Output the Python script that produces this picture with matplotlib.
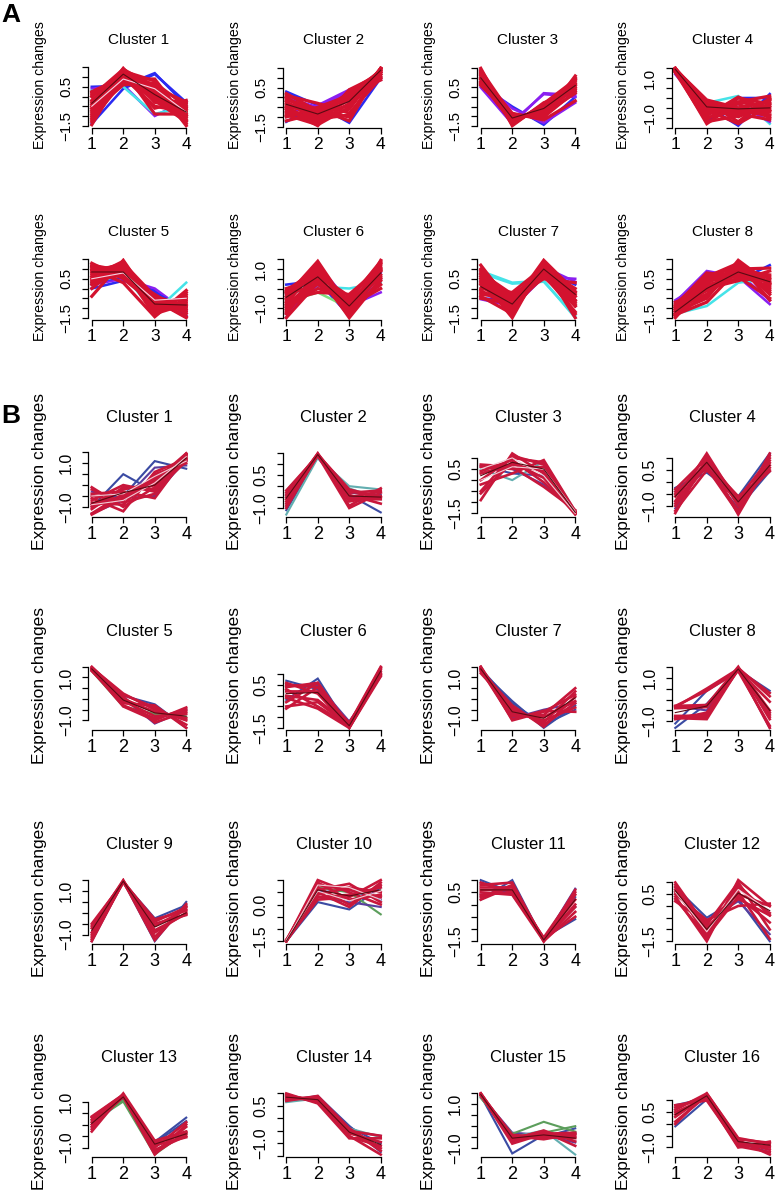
import matplotlib
matplotlib.use("Agg")
import matplotlib.pyplot as plt
import numpy as np

plt.rcParams['font.family'] = ['Liberation Sans', 'DejaVu Sans']

# ---------------- data ----------------
TIME_POINTS = [1, 2, 3, 4]
A_TITLES = ["Cluster %d" % i for i in range(1, 9)]
B_TITLES = ["Cluster %d" % i for i in range(1, 17)]
YLABEL = "Expression changes"

# y tick labels that are printed on each panel
A_YLABELS = [[-1.5, 0.5], [-1.5, 0.5], [-1.5, 0.5], [-1.0, 1.0],
             [-1.5, 0.5], [-1.0, 1.0], [-1.5, 0.5], [-1.5, 0.5]]
B_YLABELS = [[-1.0, 1.0], [-1.0, 0.5], [-1.5, 0.5], [-1.0, 0.5],
             [-1.0, 1.0], [-1.5, 0.5], [-1.0, 1.0], [-1.0, 1.0],
             [-1.0, 1.0], [-1.5, 0.0], [-1.5, 0.5], [-1.5, 0.5],
             [-1.0, 1.0], [-1.0, 0.5], [-1.0, 1.0], [-1.0, 0.5]]

# ---- Panel A ----
a1_mean = [-0.35, 1.15, 0.1, -0.8]
a1_red = [[-1.3, 1.0, 0.5, -0.3], [-1.0, 1.4, 0.2, -0.7], [-0.6, 1.45, -0.3, -0.6],
          [-0.2, 1.2, 0.6, -1.5], [0.2, 0.9, 0.9, -1.2], [0.0, 1.3, -0.1, -1.0],
          [-0.8, 0.6, 0.7, -0.5], [-0.4, 1.1, -0.6, -0.2], [0.1, 0.7, 0.3, -1.4],
          [-1.1, 1.35, -0.9, -0.9], [-1.45, 1.2, 0.0, -1.1], [0.25, 1.0, -0.5, -0.8],
          [-0.9, 1.2, 0.4, -1.0], [-0.3, 0.8, 0.0, -0.4], [-0.7, 1.0, -0.2, -1.3],
          [0.0, 1.4, 0.5, -0.9], [-1.2, 0.8, 0.2, -0.6], [-0.5, 1.3, 0.8, -1.2]]
a1_other = [("b", [0.5, 0.55, 1.2, -0.45]), ("p", [0.4, 0.6, -1.0, -0.2]),
            ("b", [-1.4, 0.4, 1.15, -0.3]), ("c", [0.3, 0.5, -0.9, -0.5]),
            ("w", [-0.5, 0.9, 0.4, -0.8])]

a2_mean = [-0.35, -0.85, -0.2, 1.4]
a2_red = [[0.2, -0.7, -1.0, 1.5], [-0.6, -1.45, 0.4, 1.2], [-1.0, -0.5, 0.1, 1.4],
          [-0.2, -1.2, -0.6, 1.5], [0.1, -0.3, -0.8, 1.0], [-0.8, -1.0, 0.3, 1.3],
          [-0.4, -0.6, -1.2, 1.5], [-1.2, -0.8, 0.0, 1.1], [-0.5, -1.3, -0.3, 1.45],
          [0.0, -1.0, 0.2, 0.9], [-0.3, -0.9, -0.4, 1.3], [-0.7, -1.1, -0.1, 1.4],
          [-0.1, -0.6, 0.0, 1.2], [-0.9, -1.4, -0.5, 1.5], [0.0, -1.1, -0.9, 1.3],
          [-0.5, -0.7, 0.2, 1.0]]
a2_other = [("b", [0.3, -0.4, -1.3, 1.0]), ("b", [-1.25, -0.35, -0.2, 1.2]),
            ("p", [-0.8, -0.4, 0.4, 0.9]), ("p", [0.0, -0.5, 0.3, 0.95])]

a3_mean = [1.0, -1.1, -0.6, 0.6]
a3_red = [[1.5, -1.5, -0.3, 0.3], [1.2, -1.3, -0.55, 0.65], [0.9, -1.1, -0.8, 1.0],
          [0.6, -0.9, -1.1, 1.1], [1.3, -1.4, -0.4, 0.5], [1.0, -1.2, -0.7, 0.9],
          [0.7, -1.0, -0.9, 0.2], [1.1, -0.85, -1.2, -0.2], [0.8, -1.35, -0.45, 0.8],
          [1.4, -1.0, -1.0, 0.6], [1.25, -1.2, -0.6, 0.4], [0.95, -1.0, -0.95, 0.7],
          [1.35, -1.45, -0.35, 0.9], [0.75, -1.25, -0.5, 0.5], [1.15, -0.95, -1.05, 0.3],
          [0.65, -1.1, -0.75, 0.95]]
a3_other = [("b", [0.6, -0.5, -1.45, 0.0]), ("p", [0.8, -0.6, -1.35, -0.3]),
            ("p", [0.5, -1.4, 0.2, 0.1]), ("p", [1.1, -1.3, 0.15, 0.0])]

a4_mean = [1.45, -0.45, -0.55, -0.5]
a4_red = [[1.5, -0.3, -0.6, -0.6], [1.4, -1.1, 0.0, -0.3], [1.45, -0.2, -1.2, 0.0],
          [1.35, -0.8, -0.3, -1.0], [1.5, -0.5, -0.9, -0.1], [1.4, -1.3, -0.2, 0.1],
          [1.45, -0.1, -0.5, -0.85], [1.3, -0.6, -1.3, -0.4], [1.5, -0.9, 0.05, -0.65],
          [1.4, -0.4, -0.7, -0.7], [1.45, -0.7, -0.5, -0.2], [1.35, -0.35, -0.95, -0.3],
          [1.5, -1.0, -0.6, -0.9], [1.4, -0.55, -0.2, -0.5], [1.45, -0.15, -0.8, -1.1],
          [1.3, -1.2, -0.9, -0.05]]
a4_other = [("c", [1.3, -0.25, 0.1, -1.3]), ("b", [1.35, -1.2, 0.0, 0.0]),
            ("b", [1.4, -0.4, -1.4, 0.2]), ("p", [1.2, -0.7, -0.3, -1.2])]

a5_mean = [0.85, 0.85, -0.8, -0.85]
a5_red = [[1.2, 0.9, -0.6, -1.5], [0.6, 1.4, -1.0, -1.0], [1.0, 0.3, -1.45, -0.1],
          [0.0, 1.3, -0.4, -0.9], [0.9, 1.1, -1.2, -0.3], [0.4, 0.7, -0.3, -1.3],
          [1.3, 0.5, -0.8, -0.9], [0.7, 1.0, -1.4, -0.2], [-0.4, 1.45, -0.9, -0.4],
          [1.1, 0.8, -1.0, -0.7], [0.95, 1.2, -0.7, -1.2], [0.5, 1.0, -1.1, -0.6],
          [1.15, 0.6, -0.5, -1.1], [0.2, 1.1, -0.8, -0.5], [0.8, 1.3, -1.3, -0.8],
          [0.3, 0.9, -0.6, -1.45]]
a5_other = [("b", [0.0, 0.4, -0.1, -1.4]), ("p", [0.2, 0.5, 0.0, -1.2]),
            ("b", [0.3, 0.6, -0.2, -1.1]), ("c", [0.3, 0.7, -1.2, 0.3]),
            ("w", [0.5, 0.8, -0.6, -0.5])]

a6_mean = [-0.45, 0.6, -0.9, 0.8]
a6_red = [[-1.5, 0.3, -0.6, 1.4], [-0.8, 1.2, -1.3, 0.9], [-0.2, 0.8, -1.5, 0.5],
          [-1.0, 0.0, -0.5, 1.3], [-0.4, 1.4, -1.0, 0.2], [0.0, 0.5, -1.2, 1.0],
          [-1.2, 0.9, -0.8, 0.6], [-0.6, -0.2, -0.3, 1.1], [-0.1, 1.0, -0.9, 0.0],
          [-0.9, 0.6, -1.4, 1.45], [-0.5, 1.0, -1.1, 0.7], [-1.1, 0.4, -1.0, 1.2],
          [-0.3, 0.2, -0.7, 0.9], [-0.7, 1.3, -1.3, 0.4], [-1.3, 0.7, -0.4, 1.0],
          [-0.2, 0.6, -1.1, 1.3]]
a6_other = [("b", [0.2, 0.4, -1.4, 0.8]), ("p", [-1.5, 1.2, -0.7, 0.5]),
            ("c", [-0.3, 0.1, 0.0, 0.3]), ("p", [-1.3, 0.2, -0.9, -0.2]),
            ("g", [-0.7, -0.2, -1.0, 0.9])]

a7_mean = [0.1, -0.8, 1.0, -0.3]
a7_red = [[1.2, -0.9, 0.6, -0.9], [0.5, -1.5, 1.4, -0.4], [-0.2, -0.6, 1.2, -0.4],
          [0.8, -0.3, 0.7, -1.2], [0.2, -1.2, 1.0, 0.0], [-0.5, -0.8, 1.45, -0.15],
          [0.9, -1.0, 0.9, -0.8], [0.0, -0.2, 1.1, -1.5], [0.6, -1.3, 1.3, -0.6],
          [-0.3, -0.5, 0.5, 0.3], [0.3, -0.7, 1.2, -0.6], [0.7, -1.1, 0.8, -0.3],
          [-0.1, -1.0, 1.3, -0.9], [1.0, -0.6, 1.0, -1.3], [0.4, -0.4, 0.9, -0.2],
          [-0.4, -1.3, 1.1, -0.7]]
a7_other = [("b", [-0.5, -0.6, 0.9, 0.2]), ("p", [-0.55, -0.9, 1.1, 0.35]),
            ("c", [0.9, 0.3, 0.4, -1.5]), ("c", [0.8, 0.25, 0.35, -1.4]),
            ("p", [0.4, -1.0, 0.6, 0.5])]

a8_mean = [-1.2, 0.0, 0.85, 0.35]
a8_red = [[-1.5, 0.3, 0.9, 0.3], [-1.2, -0.5, 1.45, 0.25], [-0.9, 0.8, 0.6, -0.5],
          [-1.3, 0.0, 0.4, 0.9], [-1.0, -0.3, 1.1, 0.2], [-1.4, 0.5, 1.2, -0.3],
          [-0.7, -0.1, 0.8, 0.0], [-1.1, 0.2, 0.5, 0.4], [-1.35, -0.7, 1.0, 1.05],
          [-0.8, 0.6, 1.3, -0.6], [-1.2, 0.1, 0.7, 0.6], [-1.0, 0.4, 1.0, -0.1],
          [-1.4, -0.3, 0.9, 0.7], [-0.9, -0.4, 1.2, 0.5], [-1.3, 0.7, 0.7, 0.1],
          [-1.1, -0.1, 1.35, -0.2]]
a8_other = [("p", [-0.7, 0.9, 0.6, -0.8]), ("b", [-1.0, 0.6, 0.4, 1.2]),
            ("p", [-0.6, 0.4, 0.8, -0.6]), ("c", [-1.3, -0.9, 0.3, 0.5])]

# ---- Panel B ----
b1_mean = [-0.83, -0.35, 0.0, 1.24]
b1_red = [[-1.3, -0.4, 0.0, 1.45], [-0.6, -1.2, 0.6, 1.2], [-1.0, -0.5, 0.3, 1.3],
          [-0.2, -0.8, -0.4, 1.4], [-1.1, -0.1, -0.2, 1.4], [-0.8, -0.9, 0.5, 1.0],
          [-0.4, -0.3, -0.6, 1.35], [-1.35, -0.6, 0.2, 1.45], [-0.7, 0.0, -0.3, 1.1],
          [-0.1, -1.0, -0.1, 1.2], [-0.9, -0.2, 0.1, 1.25], [-0.5, -0.7, 0.4, 1.15]]
b1_other = [("b", [-1.0, 0.5, -0.3, 1.1]), ("b", [-0.9, -0.5, 1.1, 0.75]),
            ("p", [-1.3, -0.7, 0.8, 0.9]), ("p", [-0.3, -0.6, -0.5, 1.2]),
            ("w", [-0.9, -0.7, 0.1, 1.3]), ("w", [-0.5, -0.4, 0.4, 1.1])]

b2_mean = [-0.55, 1.45, -0.45, -0.5]
b2_red = [[-0.3, 1.45, -0.7, -0.45], [-0.9, 1.4, -0.3, -0.2], [-0.5, 1.5, -0.9, -0.1],
          [-0.7, 1.45, -0.2, -0.55], [-0.2, 1.4, -0.6, -0.6], [-1.0, 1.45, -0.5, -0.25],
          [-0.6, 1.5, -0.4, -0.8], [-0.4, 1.4, -1.0, -0.3], [-0.8, 1.45, -0.15, -0.5]]
b2_other = [("b", [-0.4, 1.3, -0.4, -1.2]), ("b", [-1.1, 1.35, -0.3, -0.4]),
            ("t", [-1.3, 1.3, 0.0, -0.15]), ("t", [-0.2, 1.35, -0.1, -0.6])]

b3_mean = [0.2, 0.8, 0.5, -1.45]
b3_red = [[-0.9, 1.2, 0.3, -1.5], [0.6, 0.5, 0.6, -1.4], [0.0, 1.0, 0.8, -1.5],
          [0.4, 0.9, -0.1, -1.45], [-0.5, 1.1, 0.7, -1.45], [0.3, 0.7, 0.4, -1.5],
          [-0.2, 0.3, 0.9, -1.4], [0.7, 0.6, -0.3, -1.35], [-0.6, 0.8, 0.1, -1.55]]
b3_other = [("b", [0.65, 0.3, 0.2, -1.5]), ("p", [0.6, 0.5, -0.2, -1.4]),
            ("t", [0.5, 0.0, 0.85, -1.4]),
            ("w", [0.0, 0.6, 0.5, -1.4]), ("w", [0.5, 1.0, 0.2, -1.5])]

b4_mean = [-0.6, 0.83, -0.83, 0.7]
b4_red = [[-1.3, 1.0, -0.7, 1.0], [-0.4, 0.6, -1.3, 1.1], [-0.8, 1.2, -0.9, 0.5],
          [-0.5, 0.8, -0.6, 0.45], [-1.0, 0.7, -1.2, 1.2], [-0.6, 1.1, -1.0, 0.8],
          [-0.9, 0.9, -0.75, 0.6], [-0.3, 1.0, -1.36, 0.9], [-1.2, 0.5, -0.8, 0.7]]
b4_other = [("b", [-0.24, 0.4, -0.6, 1.2]), ("b", [-0.3, 0.55, -1.1, 0.45]),
            ("p", [-1.1, 0.9, -1.3, 1.15])]

b5_mean = [1.4, -0.05, -0.65, -0.8]
b5_red = [[1.45, 0.2, -0.4, -1.2], [1.4, -0.3, -0.9, -0.5], [1.35, 0.0, -0.6, -0.9],
          [1.5, 0.1, -1.1, -0.6], [1.3, -0.2, -0.3, -1.35], [1.4, -0.1, -0.8, -0.7],
          [1.45, 0.25, -0.5, -1.0], [1.35, -0.35, -1.0, -0.4]]
b5_other = [("g", [1.3, -0.35, -0.7, -0.85]), ("b", [1.4, 0.15, -0.25, -1.35]),
            ("p", [1.35, 0.05, -1.15, -0.5])]

b6_mean = [0.1, 0.15, -1.4, 1.15]
b6_red = [[0.6, 0.1, -1.5, 0.9], [-0.6, 0.4, -1.3, 1.35], [0.3, -0.5, -1.4, 1.2],
          [-0.3, 0.6, -1.5, 1.0], [0.0, -0.2, -1.35, 1.3], [0.5, 0.4, -1.45, 1.1],
          [-0.5, -0.3, -1.4, 1.25], [0.2, 0.2, -1.25, 1.0], [-0.1, -0.6, -1.5, 1.3],
          [0.4, 0.6, -1.4, 0.95]]
b6_other = [("b", [0.7, 0.3, -1.3, 1.1]), ("b", [-0.2, 0.8, -1.5, 1.0]),
            ("p", [0.5, 0.5, -1.2, 0.9])]

b7_mean = [1.4, -0.6, -0.9, 0.05]
b7_red = [[1.5, -1.0, -0.6, 0.2], [1.3, -0.3, -1.3, 0.1], [1.4, -0.6, -1.0, -0.4],
          [1.45, -0.8, -0.75, 0.5], [1.2, -0.4, -1.2, -0.2], [1.35, -0.95, -0.55, -0.6],
          [1.4, -0.5, -1.1, 0.35], [1.5, -0.7, -0.85, -0.1]]
b7_other = [("b", [1.3, -0.1, -1.35, -0.3]), ("b", [1.4, -0.2, -1.2, -0.5]),
            ("p", [1.35, -0.9, -0.5, -0.2])]

b8_mean = [-0.6, -0.3, 1.4, -0.5]
b8_red = [[-0.3, -0.3, 1.4, -0.8], [-0.8, -0.8, 1.45, 0.15], [-0.35, 0.5, 1.4, -1.3],
          [-0.8, -0.7, 1.35, -0.1], [-0.3, -0.25, 1.5, -0.9], [-0.85, -0.9, 1.4, 0.3],
          [-0.3, 0.4, 1.3, -1.2], [-0.9, -0.6, 1.45, -0.5], [-0.4, -0.35, 1.4, -0.6],
          [-0.75, -0.75, 1.4, -0.7]]
b8_other = [("b", [-1.3, -0.2, 1.35, 0.4]), ("b", [-1.1, 0.4, 1.3, -0.6]),
            ("p", [-0.3, -0.5, 1.4, -1.3])]

b9_mean = [-0.8, 1.45, -0.65, 0.0]
b9_red = [[-1.3, 1.45, -0.4, 0.25], [-0.5, 1.4, -0.9, 0.0], [-1.0, 1.45, -0.6, 0.15],
          [-0.7, 1.5, -1.1, 0.3], [-1.2, 1.4, -0.3, 0.1], [-0.6, 1.45, -0.8, -0.05],
          [-0.9, 1.45, -1.25, 0.4], [-1.1, 1.4, -0.5, -0.1]]
b9_other = [("b", [-0.9, 1.4, -0.25, 0.35]), ("b", [-1.3, 1.45, -1.3, 0.5])]

b10_mean = [-1.5, 0.6, 0.35, 0.6]
b10_red = [[-1.5, 0.9, 0.2, 0.4], [-1.45, 0.4, 0.7, 0.5], [-1.5, 0.7, 0.0, 0.8],
           [-1.5, 1.0, 0.5, 0.0], [-1.45, 0.2, 0.3, 1.0], [-1.5, 0.6, 0.85, 0.1],
           [-1.5, 0.5, -0.1, 0.9], [-1.45, 0.8, 0.6, 0.3], [-1.5, 0.3, 0.4, 0.7]]
b10_other = [("b", [-1.5, 0.1, -0.2, 0.7]), ("b", [-1.5, 0.5, 0.6, 0.2]),
             ("g", [-1.5, 0.7, 0.5, -0.4]), ("p", [-1.5, 0.3, 0.1, -0.1]),
             ("w", [-1.5, 0.8, 0.7, 0.2]), ("w", [-1.45, 0.55, 0.15, 0.55])]

b11_mean = [0.6, 0.6, -1.45, 0.2]
b11_red = [[0.9, 0.5, -1.45, -0.1], [0.3, 0.8, -1.5, 0.4], [0.6, 0.6, -1.4, 0.2],
           [0.8, 0.9, -1.5, -0.3], [0.4, 0.5, -1.35, 0.5], [0.7, 0.7, -1.45, 0.0],
           [0.5, 0.4, -1.5, 0.6], [0.2, 0.75, -1.4, -0.5]]
b11_other = [("b", [1.0, 0.5, -1.4, -0.1]), ("b", [0.2, 1.0, -1.5, 0.3]),
             ("p", [0.4, 0.6, -1.45, 0.65]), ("b", [0.9, 0.4, -1.35, -0.6])]

b12_mean = [0.65, -1.0, 0.55, -0.2]
b12_red = [[1.0, -0.9, 0.3, -0.4], [0.4, -1.5, 1.1, 0.0], [0.7, -1.2, 0.8, -0.3],
           [0.2, -0.7, 0.5, 0.0], [0.9, -1.4, 0.9, -0.4], [0.5, -0.6, 0.0, 0.1],
           [0.8, -1.0, 0.6, -1.4], [0.3, -1.3, 0.4, -0.7], [0.6, -0.8, 1.0, -1.0]]
b12_other = [("b", [0.8, -0.5, 0.3, -1.5]), ("p", [0.5, -0.6, 0.2, -1.2]),
             ("w", [0.6, -1.1, 0.7, -0.2])]

b13_mean = [0.05, 1.2, -0.85, -0.4]
b13_red = [[0.35, 1.3, -1.1, -0.5], [-0.3, 1.35, -0.7, -0.3], [0.1, 1.2, -1.3, 0.0],
           [0.2, 1.25, -0.9, -0.55], [-0.2, 1.3, -1.2, -0.1], [0.0, 1.2, -0.8, -0.4],
           [0.3, 1.3, -1.0, 0.1], [-0.1, 1.25, -1.25, -0.35]]
b13_other = [("b", [0.0, 1.2, -0.75, 0.3]), ("b", [-0.1, 1.15, -0.8, 0.15]),
             ("g", [0.1, 1.0, -1.3, -0.3]), ("g", [0.2, 1.05, -1.2, -0.4])]

b14_mean = [0.85, 0.75, -0.55, -1.05]
b14_red = [[1.0, 0.6, -0.8, -0.8], [0.7, 0.9, -0.4, -1.2], [0.8, 0.75, -0.6, -0.95],
           [0.95, 0.65, -0.7, -1.45], [0.75, 0.85, -0.5, -0.7], [0.9, 0.7, -0.75, -1.1],
           [0.85, 0.8, -0.45, -1.3]]
b14_other = [("b", [0.7, 0.9, -0.3, -1.35]), ("b", [0.75, 0.85, -0.35, -1.0]),
             ("p", [0.8, 0.7, -0.5, -0.7]), ("t", [0.65, 0.8, -0.4, -0.75])]

b15_mean = [1.45, -0.55, -0.4, -0.55]
b15_red = [[1.5, -0.7, -0.3, -0.5], [1.45, -0.4, -0.5, -0.55], [1.4, -0.6, -0.2, -0.7],
           [1.5, -0.5, -0.45, -0.4], [1.45, -0.8, -0.35, -0.3], [1.4, -0.45, -0.6, -0.35],
           [1.5, -0.55, -0.25, -0.9]]
b15_other = [("b", [1.4, -1.25, -0.4, -0.3]), ("b", [1.45, -0.6, -0.5, -0.1]),
             ("p", [1.4, -0.3, -0.4, -0.75]), ("g", [1.3, -0.35, 0.2, -0.25]),
             ("g", [1.3, -0.45, -0.3, 0.0]), ("t", [1.35, -0.5, -0.2, -1.3])]

b16_mean = [0.4, 1.2, -0.75, -0.9]
b16_red = [[0.7, 1.2, -0.8, -1.0], [0.0, 1.3, -0.6, -0.85], [0.5, 1.1, -1.0, -0.75],
           [0.3, 1.25, -0.7, -1.3], [0.8, 1.0, -0.9, -0.95], [0.1, 1.2, -0.75, -1.1],
           [0.6, 1.3, -0.65, -0.8], [0.4, 1.15, -0.95, -1.2]]
b16_other = [("b", [-0.1, 1.05, -0.9, -1.0]), ("b", [0.8, 1.1, -0.8, -1.2])]

A_PANELS = [(a1_mean, a1_red, a1_other), (a2_mean, a2_red, a2_other),
            (a3_mean, a3_red, a3_other), (a4_mean, a4_red, a4_other),
            (a5_mean, a5_red, a5_other), (a6_mean, a6_red, a6_other),
            (a7_mean, a7_red, a7_other), (a8_mean, a8_red, a8_other)]
B_PANELS = [(b1_mean, b1_red, b1_other), (b2_mean, b2_red, b2_other),
            (b3_mean, b3_red, b3_other), (b4_mean, b4_red, b4_other),
            (b5_mean, b5_red, b5_other), (b6_mean, b6_red, b6_other),
            (b7_mean, b7_red, b7_other), (b8_mean, b8_red, b8_other),
            (b9_mean, b9_red, b9_other), (b10_mean, b10_red, b10_other),
            (b11_mean, b11_red, b11_other), (b12_mean, b12_red, b12_other),
            (b13_mean, b13_red, b13_other), (b14_mean, b14_red, b14_other),
            (b15_mean, b15_red, b15_other), (b16_mean, b16_red, b16_other)]

# ---------------- styles ----------------
A_COLORS = {"red": "#D3122F", "b": "#2B2BF2", "p": "#8A1FF0", "c": "#45E3E8",
            "g": "#7FE07F", "t": "#45C8D0", "w": "#F6D2E2"}
B_COLORS = {"red": "#C8173B", "b": "#3B4BA3", "p": "#5A3E9E", "c": "#5FB5B5",
            "g": "#5C9E5C", "t": "#62AEB0", "w": "#F0CAD4"}
MEAN_COLOR = "#5A0A12"

W, H = 778, 1193
fig = plt.figure(figsize=(W / 100, H / 100), dpi=100)


def px2fig(x, y):
    return x / W, 1 - y / H


def draw_panel(left, top, width, height, title, panel, ylabels, colors,
               title_y, ylab_x, ylab_y, fs_title, fs_ylab, fs_ytick, fs_xtick,
               lw_red):
    mean, red, other = panel
    ax = fig.add_axes([left / W, 1 - (top + height) / H, width / W, height / H])
    for code, vals in other:
        if code != "w":
            ax.plot(TIME_POINTS, vals, color=colors[code], lw=lw_red * 0.8,
                    solid_joinstyle="miter", zorder=1)
    for vals in red:
        ax.plot(TIME_POINTS, vals, color=colors["red"], lw=lw_red,
                solid_joinstyle="miter", zorder=2)
    for code, vals in other:
        if code == "w":
            ax.plot(TIME_POINTS, vals, color=colors[code], lw=0.8, zorder=3)
    ax.plot(TIME_POINTS, mean, color=MEAN_COLOR, lw=0.8, zorder=4)

    allv = np.array(red + [v for _, v in other] + [mean])
    lo, hi = allv.min(), allv.max()
    pad = 0.04 * (hi - lo)
    ax.set_ylim(lo - pad, hi + pad)
    ax.set_xlim(1 - 0.04 * 3, 4 + 0.04 * 3)

    ticks = [t / 2 for t in range(-6, 7) if lo - pad <= t / 2 <= hi + pad]
    ax.set_yticks(ticks)
    labs = []
    for t in ticks:
        lab = ""
        for l in ylabels:
            if abs(l - t) < 1e-9:
                lab = ("%.1f" % t).replace("-", "\u2212")
        labs.append(lab)
    ax.set_yticklabels(labs, rotation=90, ha="center", va="center",
                       fontsize=fs_ytick)
    ax.set_xticks(TIME_POINTS)
    ax.set_xticklabels([str(t) for t in TIME_POINTS], fontsize=fs_xtick)
    ax.tick_params(axis="y", length=4, width=0.9, pad=11.5)
    ax.tick_params(axis="x", length=4, width=0.9, pad=2.5)

    for s in ["top", "right"]:
        ax.spines[s].set_visible(False)
    ax.spines["left"].set_bounds(ticks[0], ticks[-1])
    ax.spines["bottom"].set_bounds(1, 4)
    ax.spines["left"].set_linewidth(0.9)
    ax.spines["bottom"].set_linewidth(0.9)
    ax.patch.set_alpha(0)

    tx, ty = px2fig(left + width / 2, title_y)
    fig.text(tx, ty, title, ha="center", va="center", fontsize=fs_title)
    lx, ly = px2fig(ylab_x, ylab_y)
    fig.text(lx, ly, YLABEL, ha="center", va="center", rotation=90,
             fontsize=fs_ylab)


COL_W = 194.5
for i, panel in enumerate(A_PANELS):
    r, c = divmod(i, 4)
    left = 88 + COL_W * c
    top = 66 + 192 * r
    draw_panel(left, top, 102, 62, A_TITLES[i], panel, A_YLABELS[i], A_COLORS,
               40 + 192 * r, 40 + COL_W * c, 85 + 192 * r,
               11, 10.2, 11.0, 12.5, 2.3)

B_ROW_H = 213.33
for i, panel in enumerate(B_PANELS):
    r, c = divmod(i, 4)
    left = 88 + COL_W * c
    top = 451 + B_ROW_H * r
    draw_panel(left, top, 102, 66, B_TITLES[i], panel, B_YLABELS[i], B_COLORS,
               418 + B_ROW_H * r, 40 + COL_W * c, 472 + B_ROW_H * r,
               12, 12.5, 11.5, 13.0, 1.9)

fig.text(*px2fig(11, 15), "A", ha="center", va="center", fontsize=19,
         fontweight="bold")
fig.text(*px2fig(11, 416), "B", ha="center", va="center", fontsize=19,
         fontweight="bold")

fig.savefig("out.png", dpi=100, facecolor="white")
